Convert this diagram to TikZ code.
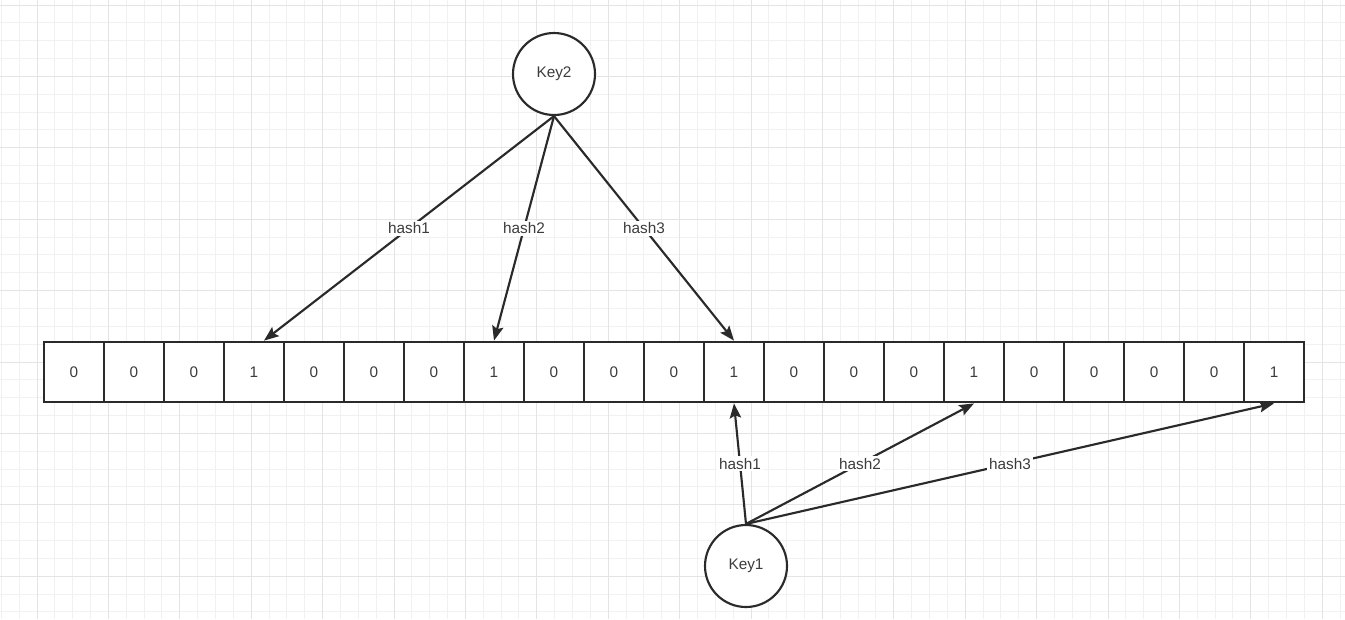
\documentclass[tikz,border=0pt]{standalone}
\usepackage{fontspec}
\setmainfont{Liberation Sans}
\usepackage{xcolor}
\usetikzlibrary{arrows.meta,calc,positioning}
\definecolor{inkgrey}{HTML}{2A2A2A}
\definecolor{textgrey}{HTML}{3C3C3C}
\definecolor{gridminor}{HTML}{F1F1F1}
\definecolor{gridmajor}{HTML}{E4E4E4}
\tikzset{
  keynode/.style={circle,draw=inkgrey,line width=1.6pt,fill=white,minimum size=61.5pt,inner sep=0pt,text=textgrey},
  cellbox/.style={rectangle,draw=inkgrey,line width=2.1pt,fill=white,minimum width=45pt,minimum height=45pt,inner sep=0pt,text=textgrey},
  hasharrow/.style={draw=inkgrey,line width=1.6pt,-{Stealth[length=11pt,width=8.5pt,inset=2pt]}},
  hashlabel/.style={fill=white,inner sep=1.5pt,text=textgrey,midway}
}
\begin{document}
\begin{tikzpicture}[x=0.75pt,y=-0.75pt,font=\fontsize{11.5}{13}\selectfont]
\useasboundingbox (0,0) rectangle (1345,619);
\fill[white] (0,0) rectangle (1345,619);
% background grid
\foreach \k in {0,...,75} \draw[gridminor,line width=0.75pt] ({1.3+17.85*\k},0) -- ({1.3+17.85*\k},619);
\foreach \k in {0,...,34} \draw[gridminor,line width=0.75pt] (0,{5+17.85*\k}) -- (1345,{5+17.85*\k});
\foreach \m in {0,...,18} \draw[gridmajor,line width=0.75pt] ({37+71.4*\m},0) -- ({37+71.4*\m},619);
\foreach \m in {0,...,8} \draw[gridmajor,line width=0.75pt] (0,{5+71.4*\m}) -- (1345,{5+71.4*\m});
% bit array
\foreach \b [count=\i from 0] in {0,0,0,1,0,0,0,1,0,0,0,1,0,0,0,1,0,0,0,0,1}
  \node[cellbox] (c\i) at ({74+60*\i},372) {\b};
% keys
\node[keynode] (key2) at (554,74) {Key2};
\node[keynode] (key1) at (746,566) {Key1};
% hashes of Key2
\draw[hasharrow] (key2.south) -- node[hashlabel] {hash1} ([xshift=7.5pt]c3.north);
\draw[hasharrow] (key2.south) -- node[hashlabel] {hash2} (c7.north);
\draw[hasharrow] (key2.south) -- node[hashlabel] {hash3} (c11.north);
% hashes of Key1
\draw[hasharrow] (key1.north) -- node[hashlabel] {hash1} (c11.south);
\draw[hasharrow] (key1.north) -- node[hashlabel] {hash2} (c15.south);
\draw[hasharrow] (key1.north) -- node[hashlabel] {hash3} (c20.south);
\end{tikzpicture}
\end{document}
